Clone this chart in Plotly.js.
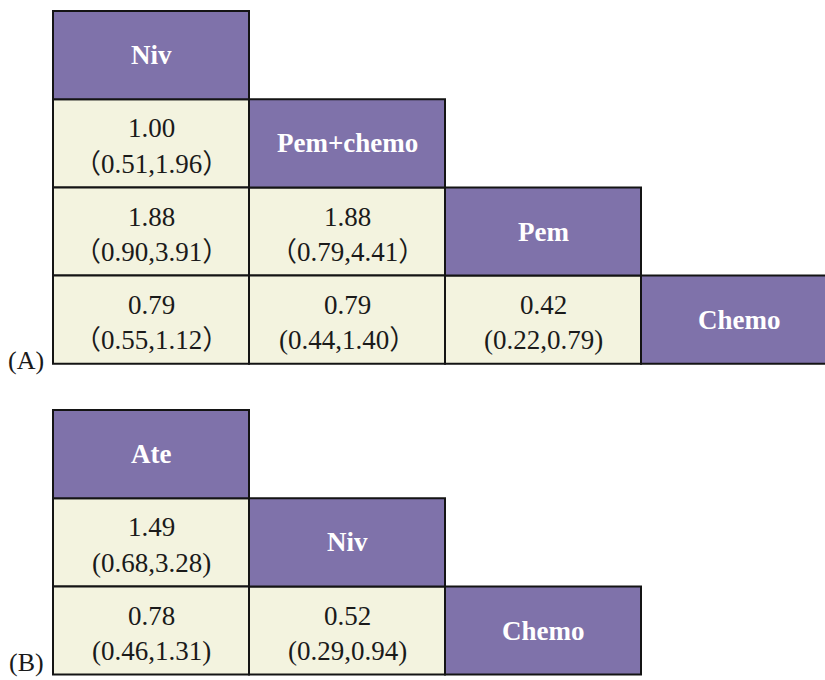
<!DOCTYPE html>
<html>
<head>
<meta charset="utf-8">
<script src="https://cdn.plot.ly/plotly-3.0.1.min.js"></script>
<style>
  html, body { margin: 0; padding: 0; background: #ffffff; }
  #chart { width: 825px; height: 680px; }
</style>
</head>
<body>
<div id="chart"></div>
<script>
// League table (A): treatments on the diagonal, odds ratios with 95% CI below it
const A_names = ['Niv', 'Pem+chemo', 'Pem', 'Chemo'];
const A_est = [[1.00], [1.88, 1.88], [0.79, 0.79, 0.42]];
const A_lo  = [[0.51], [0.90, 0.79], [0.55, 0.44, 0.22]];
const A_hi  = [[1.96], [3.91, 4.41], [1.12, 1.40, 0.79]];
const A_brackets = [['full'], ['full', 'full'], ['full', 'mixed', 'half']];

// League table (B)
const B_names = ['Ate', 'Niv', 'Chemo'];
const B_est = [[1.49], [0.78, 0.52]];
const B_lo  = [[0.68], [0.46, 0.29]];
const B_hi  = [[3.28], [1.31, 0.94]];
const B_brackets = [['half'], ['half', 'half']];

const panelLabels = ['(A)', '(B)'];

// ---- layout constants (pixel geometry of the grid) ----
const W = 825, H = 680;
const colPx = 196, rowPx = 88.2;
const leftPx = 53, topPx = 11;
const panelGapRows = 0.524;          // vertical gap between the two tables
const headerFill = '#7f72aa';
const cellFill = '#f3f3df';
const borderColor = '#141414';
const serif = '"Liberation Serif", "Times New Roman", "Noto Sans CJK SC", serif';

const shapes = [];
const annotations = [];

function ciText(lo, hi, style) {
  const a = lo.toFixed(2), b = hi.toFixed(2);
  if (style === 'full') return '\uFF08' + a + ',' + b + '\uFF09';
  if (style === 'mixed') return '(' + a + ',' + b + '\uFF09';
  return '(' + a + ',' + b + ')';
}

function cell(col, row, fill) {
  shapes.push({
    type: 'rect', xref: 'x', yref: 'y', layer: 'below',
    x0: col, x1: col + 1, y0: row, y1: row + 1,
    fillcolor: fill, line: { color: borderColor, width: 2 }
  });
}

function drawPanel(names, est, lo, hi, brackets, rowOffset, label, labelPx) {
  const n = names.length;
  // lower-triangle comparison cells
  for (let r = 1; r < n; r++) {
    for (let c = 0; c < r; c++) {
      const y = rowOffset + r;
      cell(c, y, cellFill);
      annotations.push({
        xref: 'x', yref: 'y', x: c + 0.5, y: y + 0.5 - 0.17,
        text: est[r - 1][c].toFixed(2), showarrow: false,
        font: { family: serif, size: 27, color: '#1a1a1a' }
      });
      annotations.push({
        xref: 'x', yref: 'y', x: c + 0.5, y: y + 0.5 + 0.23,
        text: ciText(lo[r - 1][c], hi[r - 1][c], brackets[r - 1][c]), showarrow: false,
        font: { family: serif, size: 27, color: '#1a1a1a' }
      });
    }
  }
  // treatment headers on the diagonal
  for (let i = 0; i < n; i++) {
    const y = rowOffset + i;
    cell(i, y, headerFill);
    annotations.push({
      xref: 'x', yref: 'y', x: i + 0.5, y: y + 0.5,
      text: '<b>' + names[i] + '</b>', showarrow: false,
      font: { family: serif, size: 27, color: '#ffffff' }
    });
  }
  // panel tag at bottom-left
  annotations.push({
    xref: 'x', yref: 'y', x: -7 / colPx, y: (labelPx - topPx) / rowPx,
    xanchor: 'right', yanchor: 'bottom',
    text: label, showarrow: false,
    font: { family: serif, size: 26, color: '#1a1a1a' }
  });
}

drawPanel(A_names, A_est, A_lo, A_hi, A_brackets, 0, panelLabels[0], 377);
drawPanel(B_names, B_est, B_lo, B_hi, B_brackets, A_names.length + panelGapRows, panelLabels[1], 679);

const hidden = {
  showgrid: false, zeroline: false, showticklabels: false, ticks: '',
  showline: false, fixedrange: true
};

const layout = {
  width: W, height: H,
  margin: { l: 0, r: 0, t: 0, b: 0 },
  paper_bgcolor: '#ffffff', plot_bgcolor: '#ffffff',
  showlegend: false,
  xaxis: Object.assign({}, hidden, { range: [-leftPx / colPx, (W - leftPx) / colPx] }),
  yaxis: Object.assign({}, hidden, { range: [(H - topPx) / rowPx, -topPx / rowPx] }),
  shapes: shapes,
  annotations: annotations
};

Plotly.newPlot('chart', [], layout, { displayModeBar: false, staticPlot: true });
</script>
</body>
</html>
